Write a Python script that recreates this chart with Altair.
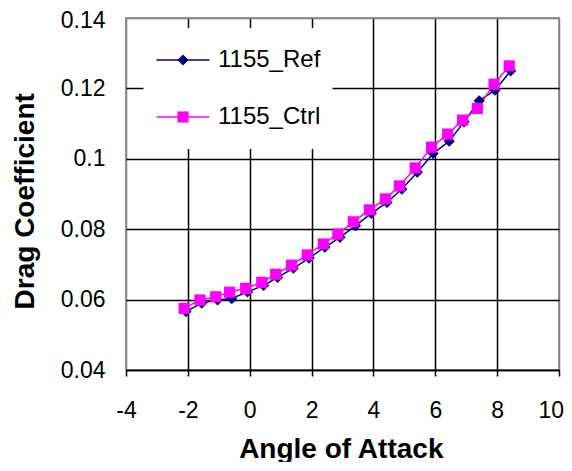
import altair as alt
import pandas as pd

series_names = ["1155_Ref", "1155_Ctrl"]
series_colors = ["#000080", "#FF00FF"]
series_shapes = ["diamond", "square"]

ref_angle = [-2.06, -1.55, -1.04, -0.58, -0.07, 0.45, 0.90, 1.41, 1.92, 2.43, 2.92,
             3.42, 3.93, 4.44, 4.92, 5.42, 5.93, 6.45, 6.93, 7.42, 7.93, 8.44]
ref_cd = [0.0566, 0.0590, 0.0599, 0.0603, 0.0622, 0.0640, 0.0663, 0.0689, 0.0718, 0.0749, 0.0777,
          0.0810, 0.0845, 0.0876, 0.0914, 0.0962, 0.1015, 0.1050, 0.1105, 0.1165, 0.1195, 0.1250]

ctrl_angle = [-2.12, -1.61, -1.10, -0.65, -0.13, 0.39, 0.84, 1.35, 1.86, 2.38, 2.85,
              3.35, 3.87, 4.39, 4.84, 5.35, 5.88, 6.40, 6.88, 7.36, 7.90, 8.39]
ctrl_cd = [0.0575, 0.0599, 0.0608, 0.0621, 0.0632, 0.0649, 0.0672, 0.0698, 0.0727, 0.0758, 0.0786,
           0.0821, 0.0855, 0.0886, 0.0923, 0.0974, 0.1033, 0.1070, 0.1110, 0.1143, 0.1212, 0.1264]

x_ticks = [-4, -2, 0, 2, 4, 6, 8, 10]
y_ticks = [0.04, 0.06, 0.08, 0.1, 0.12, 0.14]

rows = []
for i, (a, c) in enumerate(zip(ref_angle, ref_cd)):
    rows.append({"angle": a, "cd": c, "series": series_names[0], "marker": series_names[0], "idx": i})
for i, (a, c) in enumerate(zip(ctrl_angle, ctrl_cd)):
    rows.append({"angle": a, "cd": c, "series": series_names[1], "marker": series_names[1], "idx": i})
df = pd.DataFrame(rows)

FONT = "Liberation Sans"

x_enc = alt.X(
    "angle:Q",
    scale=alt.Scale(domain=[-4, 10], nice=False, zero=False),
    axis=alt.Axis(
        values=x_ticks,
        title="Angle of Attack",
        grid=True,
        gridColor={"condition": {"test": "datum.value == -4 || datum.value == 10", "value": "#808080"}, "value": "black"},
        gridWidth=1.5,
        domainColor="black",
        domainWidth=1.5,
        tickColor="black",
        tickWidth=1.5,
        tickSize=6,
        labelFont=FONT,
        labelFontSize=23,
        labelColor="black",
        labelPadding=23,
        labelFlush=False,
        labelOverlap=False,
        labelAlign={"condition": {"test": "datum.value == 10", "value": "right"}, "value": "center"},
        labelOffset={"condition": {"test": "datum.value == 10", "value": 4.5}, "value": 0},
        labelExpr="'' + datum.value",
        titleFont=FONT,
        titleFontSize=28,
        titleFontWeight="bold",
        titleColor="black",
        titleBaseline="alphabetic",
        titleAlign="center",
        titleX=214.8,
        titleY=87,
    ),
)

y_enc = alt.Y(
    "cd:Q",
    scale=alt.Scale(domain=[0.04, 0.14], nice=False, zero=False),
    axis=alt.Axis(
        values=y_ticks,
        title="Drag Coefficient",
        grid=True,
        gridColor={"condition": {"test": "datum.value == 0.14", "value": "#808080"}, "value": "black"},
        gridWidth=1.5,
        domain=False,
        ticks=False,
        labelFont=FONT,
        labelFontSize=23,
        labelColor="black",
        labelPadding=21,
        labelOverlap=False,
        labelOffset={"condition": {"test": "datum.value == 0.14", "value": 2}, "value": 0},
        labelExpr="'' + datum.value",
        titleFont=FONT,
        titleFontSize=28,
        titleFontWeight="bold",
        titleColor="black",
        titleBaseline="alphabetic",
        titleAlign="center",
        titleAngle=270,
        titleX=-92.5,
        titleY=182.8,
    ),
)

line_legend = alt.Legend(
    title=None,
    orient="none",
    legendX=17.5,
    legendY=10,
    direction="vertical",
    padding=12,
    fillColor="white",
    clipHeight=40,
    rowPadding=17,
    symbolType="stroke",
    symbolSize=2809,
    symbolStrokeWidth=1.5,
    labelOffset=7.5,
    labelFont=FONT,
    labelFontSize=24,
    labelColor="black",
    labelLimit=300,
    zindex=1,
)

marker_legend = alt.Legend(
    title=None,
    orient="none",
    legendX=33,
    legendY=10,
    direction="vertical",
    padding=12,
    clipHeight=40,
    rowPadding=17,
    symbolSize=125,
    symbolStrokeWidth=0,
    symbolOpacity=1,
    labelExpr="''",
    labelFont=FONT,
    labelFontSize=24,
    zindex=2,
)

base = alt.Chart(df)

lines = base.mark_line(strokeWidth=1.5).encode(
    x=x_enc,
    y=y_enc,
    color=alt.Color("series:N", scale=alt.Scale(domain=series_names, range=series_colors),
                    legend=line_legend, sort=series_names),
    order="idx:Q",
)

points = base.mark_point(filled=True, opacity=1, size=125).encode(
    x=x_enc,
    y=y_enc,
    fill=alt.Fill("marker:N", scale=alt.Scale(domain=series_names, range=series_colors),
                  legend=marker_legend, sort=series_names),
    shape=alt.Shape("marker:N", scale=alt.Scale(domain=series_names, range=series_shapes),
                    legend=marker_legend, sort=series_names),
)

chart = (
    alt.layer(lines, points)
    .resolve_legend(color="independent", fill="independent", shape="independent")
    .properties(
        width=433,
        height=352,
        padding={"left": 118, "top": 10, "right": 5, "bottom": 92},
        autosize=alt.AutoSizeParams(type="none"),
        background="white",
    )
    .configure_view(stroke="#808080", strokeWidth=1.5)
)

chart.save("out.html", embed_options={"renderer": "svg", "actions": False})
